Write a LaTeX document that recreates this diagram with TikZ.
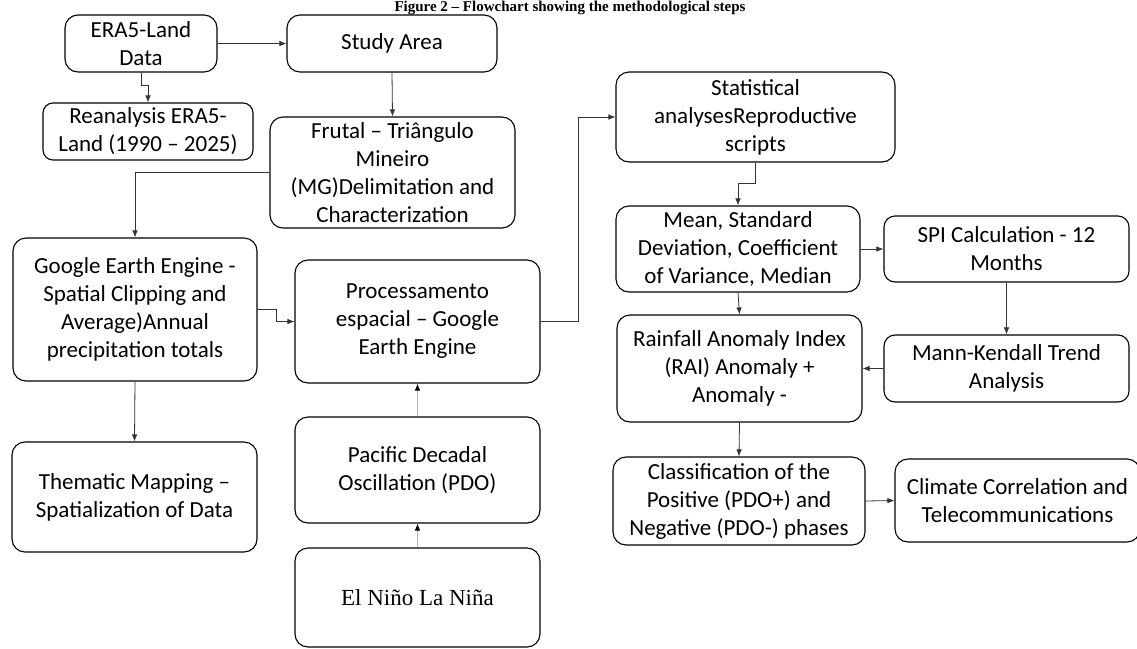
\documentclass[tikz,border=0pt]{standalone}
\usepackage{fontspec}
\setmainfont{Carlito}
\newfontfamily\ninofont{Liberation Serif}
\newfontfamily\captionfont{Liberation Serif}
\usetikzlibrary{arrows.meta}

\begin{document}
\begin{tikzpicture}[x=1pt, y=-1pt,
	box/.style={draw, line width=1.1pt, rounded corners=13pt, align=center, inner sep=0pt,
		font=\fontsize{23}{28}\selectfont},
	link/.style={draw=black!80, line width=0.8pt, -{Latex[length=7pt,width=5.5pt]}},
	faint/.style={draw=black!30, line width=0.8pt, -{Latex[length=7pt,width=5.5pt,color=black]}}]
	% page: 1137 x 648 px, y runs downwards
	\useasboundingbox (0,0) rectangle (1137,648);

	% caption above the boxes
	\node[anchor=base, inner sep=0pt, font=\captionfont\bfseries\fontsize{15}{17}\selectfont] (caption) at (570,11.5)
		{Figure 2 – Flowchart showing the methodological steps};

	% left column: data and study area
	\node[box, minimum width=152, minimum height=57] (era5) at (141,43.5) {ERA5-Land\\Data};
	\node[box, minimum width=210, minimum height=57] (study) at (392,43.5) {Study Area};
	\node[box, minimum width=210, minimum height=57, rounded corners=10pt] (reanalysis) at (148,131.5)
		{Reanalysis ERA5-\\Land (1990 -- 2025)};
	\node[box, minimum width=245, minimum height=111] (frutal) at (392.5,172.5)
		{Frutal -- Triângulo\\Mineiro\\(MG)Delimitation and\\Characterization};
	\node[box, minimum width=244, minimum height=143] (gee) at (135,309.5)
		{Google Earth Engine -\\Spatial Clipping and\\Average)Annual\\precipitation totals};
	\node[box, minimum width=245, minimum height=110] (mapping) at (134.5,497)
		{Thematic Mapping --\\Spatialization of Data};

	% middle column: processing and ocean indices
	\node[box, minimum width=245, minimum height=123] (proc) at (417.5,321.5)
		{Processamento\\espacial -- Google\\Earth Engine};
	\node[box, minimum width=245, minimum height=106] (pdo) at (417.5,470)
		{Pacific Decadal\\Oscillation (PDO)};
	\node[box, minimum width=245, minimum height=99, font=\ninofont\fontsize{23}{28}\selectfont] (enso) at (417.5,597.5)
		{El Niño La Niña};

	% right columns: statistics
	\node[box, minimum width=279, minimum height=90] (stats) at (755.5,117)
		{Statistical\\analysesReproductive\\scripts};
	\node[box, minimum width=244, minimum height=86] (mean) at (738,249)
		{Mean, Standard\\Deviation, Coefficient\\of Variance, Median};
	\node[box, minimum width=245, minimum height=66, rounded corners=11pt] (spi) at (1006.5,249)
		{SPI Calculation - 12\\Months};
	\node[box, minimum width=245, minimum height=107] (rai) at (739.5,368.5)
		{Rainfall Anomaly Index\\(RAI) Anomaly +\\Anomaly -};
	\node[box, minimum width=245, minimum height=67, rounded corners=11pt] (mk) at (1006.5,368.5)
		{Mann-Kendall Trend\\Analysis};
	\node[box, minimum width=252, minimum height=88] (phases) at (739,501)
		{Classification of the\\Positive (PDO+) and\\Negative (PDO-) phases};
	\node[box, minimum width=245, minimum height=83] (climate) at (1017.5,500.5)
		{Climate Correlation and\\Telecommunications};

	% connectors
	\draw[link] (era5) -- (study);
	\draw[link] (era5.south) -- ++(0,13) -| (reanalysis.north);
	\draw[link] (study.south) -- (frutal.north);
	\draw[link] (frutal.west) -| (gee.north);
	\draw[link] (gee.east) -- ++(19,0) |- (proc.west);
	\draw[link] (gee.south) -- (mapping.north);
	\draw[faint] (pdo.north) -- (proc.south);
	\draw[faint] (enso.north) -- (pdo.south);
	\draw[link] (proc.east) -- ++(38,0) |- (stats.west);
	\draw[link] (stats.south) -- ++(0,21) -| (mean.north);
	\draw[link] (mean.east) -- (spi.west);
	\draw[link] (mean.south) -- (rai.north);
	\draw[link] (spi.south) -- (mk.north);
	\draw[link] (mk.west) -- (rai.east);
	\draw[link] (rai.south) -- (phases.north);
	\draw[link] (phases.east) -- (climate.west);
\end{tikzpicture}
\end{document}
